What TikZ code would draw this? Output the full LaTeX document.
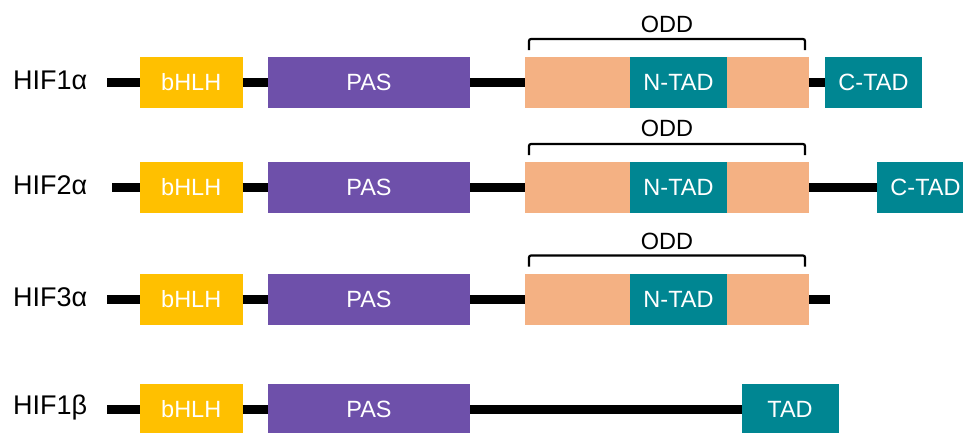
\documentclass[tikz,border=0pt]{standalone}
\usepackage{fontspec}
\setmainfont{Liberation Sans}
\definecolor{bhlhcol}{HTML}{FFC000}
\definecolor{pascol}{HTML}{6E50AA}
\definecolor{oddcol}{HTML}{F4B183}
\definecolor{tadcol}{HTML}{008692}
\begin{document}
\begin{tikzpicture}[x=1pt,y=-1pt,
  dom/.style={minimum height=51pt, inner sep=0pt, outer sep=0pt, text=white,
              font=\fontsize{23.5}{26}\selectfont},
  bhlh/.style={dom, fill=bhlhcol, minimum width=102.5pt},
  pas/.style={dom, fill=pascol, minimum width=202pt},
  oddbox/.style={dom, fill=oddcol, minimum width=284pt},
  tad/.style={dom, fill=tadcol, minimum width=97pt},
  backbone/.style={line width=9pt, black},
  brace/.style={line width=2.2pt, black, rounded corners=2pt},
  protname/.style={anchor=west, inner sep=0pt, font=\fontsize{27}{30}\selectfont},
  oddlabel/.style={inner sep=0pt, font=\fontsize{23.5}{26}\selectfont}]
\clip (0,0) rectangle (963,432);
\fill[white] (0,0) rectangle (963,432);

% ---- HIF1 alpha ----
\coordinate (s1) at (107,82);
\node[bhlh] (b1) at (191.25,82) {bHLH};
\node[pas] (p1) at (369,82) {PAS};
\node[oddbox] (o1) at (667,82) {};
\node[tad] (n1) at (678.5,82) {N-TAD};
\node[tad] (c1) at (873.5,82) {C-TAD};
\node[protname] (l1) at (13,80.5) {HIF1α};

% ---- HIF2 alpha ----
\coordinate (s2) at (112,187.2);
\node[bhlh] (b2) at (191.25,187.2) {bHLH};
\node[pas] (p2) at (369,187.2) {PAS};
\node[oddbox] (o2) at (667,187.2) {};
\node[tad] (n2) at (678.5,187.2) {N-TAD};
\node[tad] (c2) at (925.5,187.2) {C-TAD};
\node[protname] (l2) at (13,185.5) {HIF2α};

% ---- HIF3 alpha ----
\coordinate (s3) at (107,299.2);
\coordinate (e3) at (830,299.2);
\node[bhlh] (b3) at (191.25,299.2) {bHLH};
\node[pas] (p3) at (369,299.2) {PAS};
\node[oddbox] (o3) at (667,299.2) {};
\node[tad] (n3) at (678.5,299.2) {N-TAD};
\node[protname] (l3) at (13,297.5) {HIF3α};

% ---- HIF1 beta ----
\coordinate (s4) at (107,409.5);
\node[bhlh] (b4) at (191.25,409.5) {bHLH};
\node[pas] (p4) at (369,409.5) {PAS};
\node[tad] (t4) at (790,409.5) {TAD};
\node[protname] (l4) at (13,407.5) {HIF1β};

% backbone segments between the domains
\draw[backbone] (s1) -- (b1.west) (b1.east) -- (p1.west) (p1.east) -- (o1.west) (o1.east) -- (c1.west);
\draw[backbone] (s2) -- (b2.west) (b2.east) -- (p2.west) (p2.east) -- (o2.west) (o2.east) -- (c2.west);
\draw[backbone] (s3) -- (b3.west) (b3.east) -- (p3.west) (p3.east) -- (o3.west) (o3.east) -- (e3);
\draw[backbone] (s4) -- (b4.west) (b4.east) -- (p4.west) (p4.east) -- (t4.west);

% ODD brackets
\foreach \top/\lab [count=\i] in {39/24, 144/128.5, 255.5/241.5} {
  \draw[brace] (529,\top+11) -- (529,\top) -- (805,\top) -- (805,\top+11);
  \node[oddlabel] (odd\i) at (667,\lab) {ODD};
}
\end{tikzpicture}
\end{document}
